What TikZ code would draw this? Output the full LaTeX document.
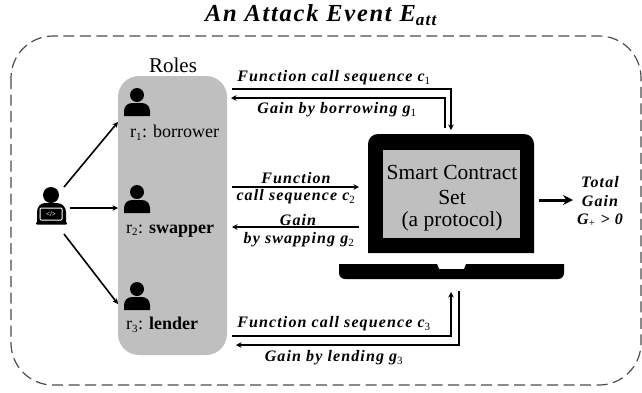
\documentclass[tikz,border=0pt]{standalone}
\usepackage{fontspec}
\setmainfont{Liberation Serif}
\newfontfamily\gainfont[LetterSpace=7]{Liberation Serif}
\usetikzlibrary{arrows.meta}
\newcommand{\bi}[1]{\textbf{\textit{#1}}}
\newcommand{\idx}[1]{\textsubscript{\fontsize{11}{11}\selectfont\normalfont #1}}
\tikzset{
	flow/.style={line width=1.6pt,-{Stealth[length=5.5pt,width=5.5pt]}},
	gainlabel/.style={font=\fontsize{16}{17}\selectfont\gainfont\bfseries\itshape,inner sep=0pt},
	rolelabel/.style={font=\fontsize{18}{19}\selectfont,inner sep=0pt,anchor=west},
	screentext/.style={font=\fontsize{21.5}{22}\selectfont,inner sep=0pt},
}
\newcommand{\personicon}[2]{
	\fill (#1,#2) circle (7);
	\fill (#1-13,#2+21) -- (#1-13,#2+16) to[out=90,in=180] (#1-5,#2+8) -- (#1+5,#2+8) to[out=0,in=90] (#1+13,#2+16) -- (#1+13,#2+21) -- cycle;
}
\begin{document}
\begin{tikzpicture}[x=1pt,y=-1pt]
	\useasboundingbox (0,0) rectangle (642,392);
	\node[font=\fontsize{24.5}{25}\selectfont\gainfont\bfseries\itshape,inner sep=0pt] (title) at (321,15) {An Attack Event E\textsubscript{att}};
	
	% outer dashed frame, runs off on the right
	\draw [dash pattern=on 11pt off 5.5pt,line width=1.2pt,color=black!70,rounded corners=42pt] (11,36) rectangle (641,385);
	
	\fill [color=black!25,rounded corners=21pt] (118,76) rectangle (227,355);
	\node[font=\fontsize{21}{22}\selectfont,inner sep=0pt] (roles) at (173,65) {Roles};
	
	\personicon{137}{95}
	\node[rolelabel] (borrower) at (130,133) {r\idx{1}: borrower};
	\personicon{137}{192}
	\node[rolelabel] (swapper) at (126,231) {r\idx{2}: \textbf{swapper}};
	\personicon{137}{289}
	\node[rolelabel] (lender) at (126,325) {r\idx{3}: \textbf{lender}};
	
	% attacker
	\fill (51,195) circle (8);
	\fill (37,222) -- (37,212) to[out=90,in=180] (45,203) -- (57,203) to[out=0,in=90] (66,212) -- (66,222) -- cycle;
	\draw [white,line width=1pt,fill=black,rounded corners=1pt] (40,208) rectangle (62,220);
	\fill [rounded corners=1pt] (36,222) rectangle (67,224.5);
	\node[white,font=\fontsize{7}{7}\selectfont\bfseries,inner sep=0pt] (code) at (51,214) {</>};
	
	\coordinate (att1) at (64,187); \coordinate (role1) at (118,122);
	\coordinate (att2) at (70,208); \coordinate (role2) at (118,208);
	\coordinate (att3) at (64,234); \coordinate (role3) at (118,304);
	\draw [flow] (att1) -- (role1);
	\draw [flow] (att2) -- (role2);
	\draw [flow] (att3) -- (role3);
	
	% laptop
	\fill (368,253) [rounded corners=10pt] -- (368,134) -- (534,134) [sharp corners] -- (534,253) -- cycle;
	\fill [color=black!25] (383,150) rectangle (520,238);
	\fill (339,264) [rounded corners=6pt] -- (339,279) -- (564,279) [sharp corners] -- (564,264) -- (466,264) -- (464,269) -- (439,269) -- (437,264) -- cycle;
	\node[screentext] (smart) at (452,172) {Smart Contract};
	\node[screentext] (set) at (452,197) {Set};
	\node[screentext] (proto) at (452,221) {(a protocol)};
	
	% calls and gains
	\coordinate (c1a) at (232,89); \coordinate (c1b) at (451,89); \coordinate (c1c) at (451,130);
	\coordinate (g1a) at (445,128); \coordinate (g1b) at (445,98); \coordinate (g1c) at (231,98);
	\draw [flow] (c1a) -- (c1b) -- (c1c);
	\draw [flow] (g1a) -- (g1b) -- (g1c);
	\node[gainlabel] (c1) at (334,78) {Function call sequence \bi{c}\idx{1}};
	\node[gainlabel] (g1) at (337,110) {Gain by borrowing \bi{g}\idx{1}};
	
	\coordinate (c2a) at (232,187); \coordinate (c2b) at (359,187);
	\coordinate (g2a) at (359,227); \coordinate (g2b) at (232,227);
	\draw [flow] (c2a) -- (c2b);
	\draw [flow] (g2a) -- (g2b);
	\node[gainlabel] (c2top) at (296,178) {Function};
	\node[gainlabel] (c2) at (296,197) {call sequence \bi{c}\idx{2}};
	\node[gainlabel] (g2top) at (298,220) {Gain};
	\node[gainlabel] (g2) at (299,240) {by swapping \bi{g}\idx{2}};
	
	\coordinate (c3a) at (232,336); \coordinate (c3b) at (451,336); \coordinate (c3c) at (451,292);
	\coordinate (g3a) at (459,291); \coordinate (g3b) at (459,345); \coordinate (g3c) at (236,345);
	\draw [flow] (c3a) -- (c3b) -- (c3c);
	\draw [flow] (g3a) -- (g3b) -- (g3c);
	\node[gainlabel] (c3) at (334,324) {Function call sequence \bi{c}\idx{3}};
	\node[gainlabel] (g3) at (334,358) {Gain by lending \bi{g}\idx{3}};
	
	% total
	\coordinate (ta) at (539,200); \coordinate (tb) at (573,200);
	\draw [line width=3pt,-{Stealth[length=10pt,width=10pt]}] (ta) -- (tb);
	\node[gainlabel] (total) at (600,182) {Total};
	\node[gainlabel] (gain) at (600,201) {Gain};
	\node[gainlabel] (gplus) at (600,220) {G\idx{+} > 0};
\end{tikzpicture}
\end{document}
